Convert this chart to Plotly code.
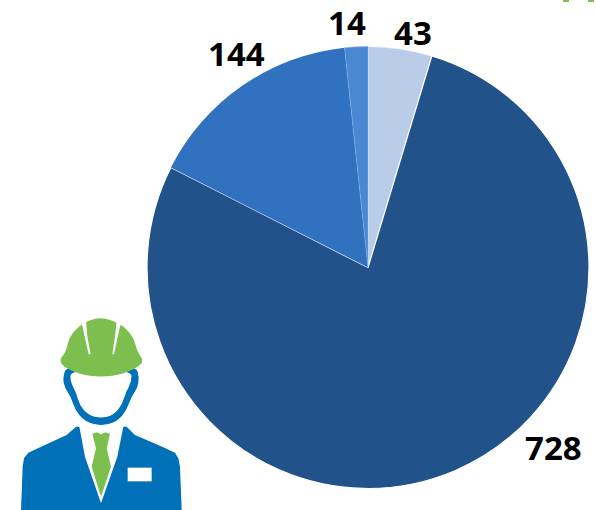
import plotly.graph_objects as go

categories = ["A", "B", "C", "D"]
shown_values = [43, 728, 144, 14]
slice_degrees = [16.8, 280.1, 57.0, 6.1]
colors = ["#B9CDE9", "#22528A", "#3071C0", "#4A88D4"]
edge_colors = ["#FFFFFF", "#FFFFFF", "#FFFFFF", "#8FB3E2"]
edge_widths = [0.8, 1.2, 0, 0.5]
label_xy = [(413, 32), (553, 447), (236, 54), (347, 23)]

W, H = 596, 510


def pt(x, y):
    return f"{(x / 3) / W:.5f},{1 - (300 + y / 3) / H:.5f}"


def P(zoom_pts):
    """zoom-space (3x crop at (0,300)) polygon to paper-space SVG path"""
    return " ".join(("M" if i == 0 else "L") + pt(x, y) for i, (x, y) in enumerate(zoom_pts)) + " Z"


def S(zoom_pts):
    """same, rounded through edge midpoints"""
    n = len(zoom_pts)
    mid = lambda a, b: ((a[0] + b[0]) / 2, (a[1] + b[1]) / 2)
    start = mid(zoom_pts[-1], zoom_pts[0])
    parts = ["M" + pt(*start)]
    for i in range(n):
        m = mid(zoom_pts[i], zoom_pts[(i + 1) % n])
        parts.append(f"Q{pt(*zoom_pts[i])} {pt(*m)}")
    return " ".join(parts) + " Z"


suit = [(63,630),(68,500),(72,475),(85,458),(120,442),(200,405),(228,380),(238,380),(255,470),(303,610),(352,470),(370,380),(380,380),(405,405),(490,442),(525,458),(535,475),(540,500),(545,630)]
tie = [(277,402),(290,397),(303,403),(317,397),(330,402),(320,445),(333,500),(303,590),(275,500),(288,445)]
badge = [(383,503),(455,503),(455,544),(383,544)]
head_outer = [(200,195),(188,235),(195,265),(212,288),(225,330),(255,365),(303,378),(352,365),(380,330),(395,288),(412,265),(418,235),(408,195)]
head_inner = [(212,210),(210,245),(228,275),(238,315),(265,345),(303,355),(340,345),(366,315),(378,275),(395,245),(394,210)]
helmet = [(178,180),(198,155),(208,110),(245,70),(300,50),(362,70),(400,110),(412,155),(430,180),(420,198),(370,222),(303,232),(235,222),(190,200)]
slit_l = [(245,68),(258,62),(262,110),(272,163),(266,163),(255,115)]
slit_r = [(350,62),(363,68),(352,115),(342,163),(337,163),(345,110)]
# fragments of a green graphic cut off by the top edge (zoom space)
frag_1 = [(1689,-900),(1707,-900),(1707,-894),(1689,-894)]
frag_2 = [(1764,-900),(1782,-900),(1782,-894),(1764,-894)]

shape = lambda path, col: dict(type="path", xref="paper", yref="paper", path=path,
                               fillcolor=col, line=dict(width=0), layer="above")

shapes = [
    shape(P(suit), "#0070B9"),
    shape(P(tie), "#7DBF4E"),
    shape(P(badge), "#FFFFFF"),
    shape(S(head_outer), "#0070B9"),
    shape(S(head_inner), "#FFFFFF"),
    shape(S(helmet), "#7DBF4E"),
    shape(P(slit_l), "#FFFFFF"),
    shape(P(slit_r), "#FFFFFF"),
    shape(P(frag_1), "#7DBF4E"),
    shape(P(frag_2), "#7DBF4E"),
]

fig = go.Figure(go.Pie(
    labels=categories, values=slice_degrees, sort=False, direction="clockwise", rotation=0,
    marker=dict(colors=colors, line=dict(color=edge_colors, width=edge_widths)),
    textinfo="none", hoverinfo="label", showlegend=False,
    domain=dict(x=[147 / W, 589 / W], y=[1 - 488.5 / H, 1 - 46.5 / H]),
))

annotations = [
    dict(x=x / W, y=1 - y / H, xref="paper", yref="paper", text=str(v), showarrow=False,
         font=dict(family="Noto Sans", size=33, color="#000000", weight="bold"),
         xanchor="center", yanchor="middle")
    for v, (x, y) in zip(shown_values, label_xy)
]

fig.update_layout(width=W, height=H, margin=dict(l=0, r=0, t=0, b=0),
                  paper_bgcolor="#FFFFFF", shapes=shapes, annotations=annotations, showlegend=False)
fig.write_html("out.html", config=dict(displayModeBar=False),
               post_script="document.body.style.margin='0';document.body.style.overflow='hidden';")
